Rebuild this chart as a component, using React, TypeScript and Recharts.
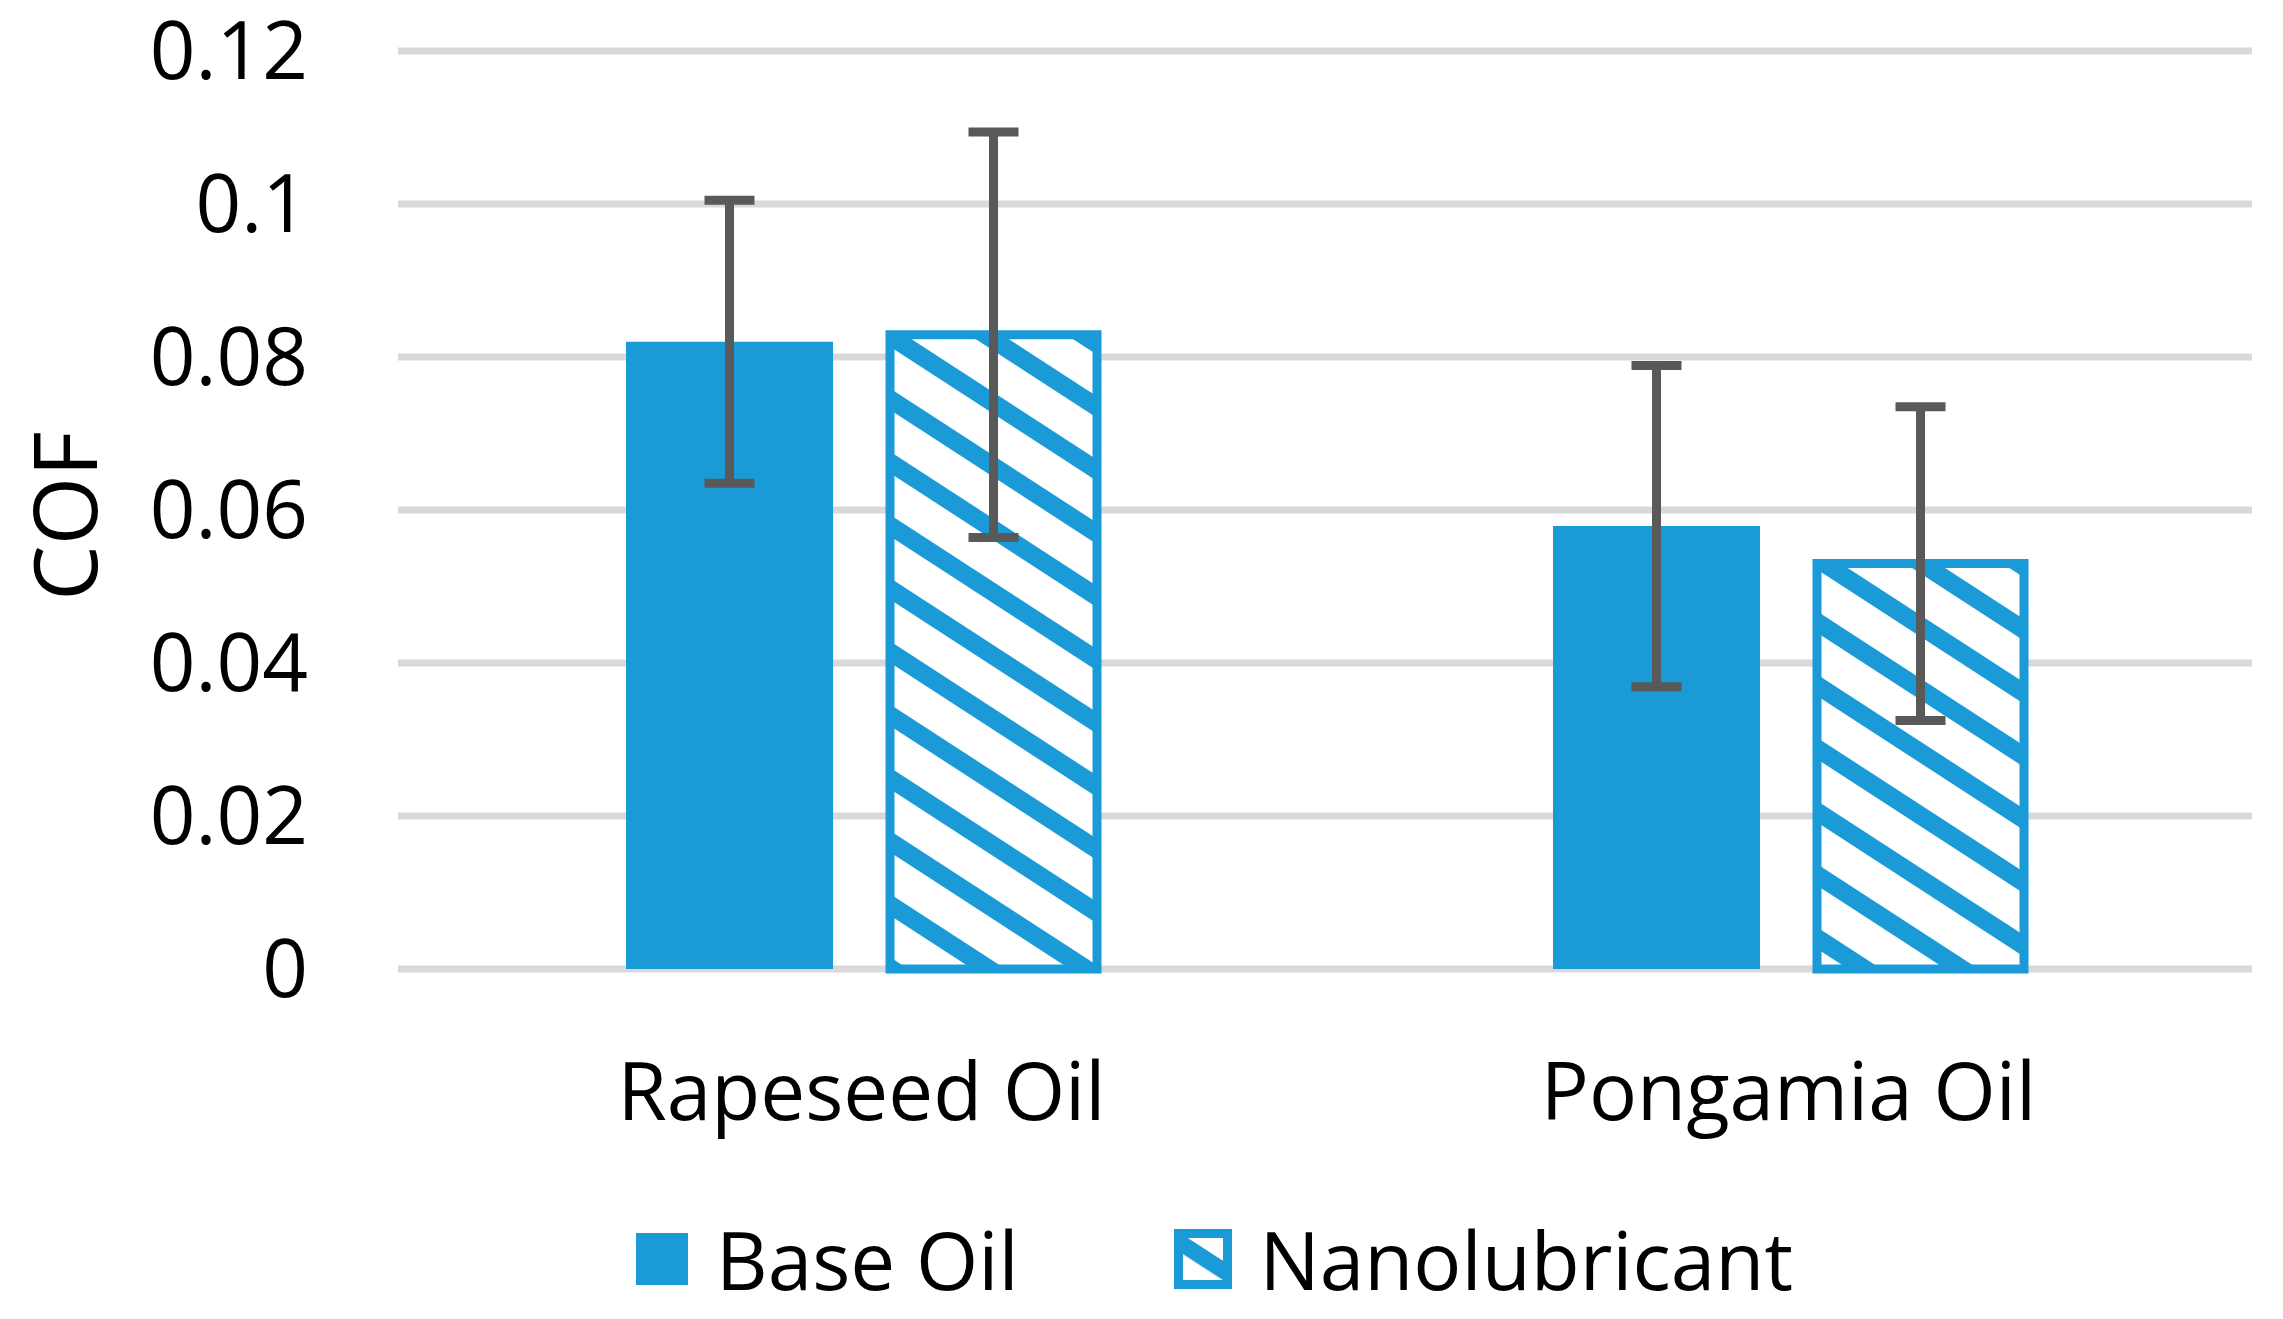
import React from "react";
import { BarChart, Bar, XAxis, YAxis, CartesianGrid, ErrorBar, Label } from "recharts";

const categories = ["Rapeseed Oil", "Pongamia Oil"];
const baseOil = [0.082, 0.0579];
const baseOilErr = [0.0185, 0.021];
const nanolubricant = [0.0829, 0.053];
const nanolubricantErr = [0.0265, 0.0205];
const yTicks = [0, 0.02, 0.04, 0.06, 0.08, 0.1, 0.12];

const BLUE = "#1A9BD7";
const FONT = "'Open Sans', sans-serif";

const data = categories.map((name, i) => ({
  name,
  base: baseOil[i],
  baseErr: baseOilErr[i],
  nano: nanolubricant[i],
  nanoErr: nanolubricantErr[i],
}));

const series = [
  { key: "base", label: "Base Oil", striped: false },
  { key: "nano", label: "Nanolubricant", striped: true },
];

function Stripes({ id, scale = 1 }: { id: string; scale?: number }) {
  return (
    <pattern
      id={id}
      patternUnits="userSpaceOnUse"
      width={100 * scale}
      height={53 * scale}
      patternTransform="rotate(33)"
    >
      <rect width={100 * scale} height={53 * scale} fill="#fff" />
      <rect width={100 * scale} height={18 * scale} fill={BLUE} />
    </pattern>
  );
}

function CofLabel(props: any) {
  const vb = props.viewBox || { y: 51, height: 918 };
  const cx = 63;
  const cy = vb.y + vb.height / 2 + 6;
  return (
    <text
      x={cx}
      y={cy}
      transform={`rotate(-90 ${cx} ${cy})`}
      textAnchor="middle"
      dominantBaseline="central"
      fontSize={88}
      fontFamily={FONT}
      fill="#000"
    >
      COF
    </text>
  );
}

function LegendBox() {
  return (
    <div
      style={{
        position: "absolute",
        left: 636,
        top: 1219,
        height: 80,
        display: "flex",
        alignItems: "center",
        fontFamily: FONT,
        fontSize: 80,
        lineHeight: "80px",
        color: "#000",
      }}
    >
      {series.map((s, i) => (
        <div
          key={s.key}
          style={{ display: "flex", alignItems: "center", marginLeft: i === 0 ? 0 : 155 }}
        >
          {s.striped ? (
            <svg width={58} height={60}>
              <defs>
                <Stripes id="legendStripes" scale={0.9} />
              </defs>
              <rect x={4.5} y={4.5} width={49} height={51} fill="url(#legendStripes)" stroke={BLUE} strokeWidth={9} />
            </svg>
          ) : (
            <div style={{ width: 52, height: 52, background: BLUE }} />
          )}
          <span style={{ marginLeft: 28 }}>{s.label}</span>
        </div>
      ))}
    </div>
  );
}

export default function App() {
  return (
    <div style={{ position: "absolute", left: 0, top: 0, width: 2283, height: 1319, background: "#fff" }}>
      <BarChart
        width={2283}
        height={1319}
        data={data}
        margin={{ top: 51, right: 31, bottom: 250, left: 0 }}
        barSize={207}
        barGap={57}
      >
        <defs>
          <Stripes id="nanoStripes" />
        </defs>
        <CartesianGrid horizontal vertical={false} stroke="#D9D9D9" strokeWidth={7} />
        <XAxis
          dataKey="name"
          height={100}
          axisLine={false}
          tickLine={false}
          tickSize={0}
          tickMargin={94}
          tick={{ fontSize: 80, fontFamily: FONT, fill: "#000" }}
        />
        <YAxis
          width={398}
          domain={[0, 0.12]}
          ticks={yTicks}
          axisLine={false}
          tickLine={false}
          tickSize={0}
          tickMargin={90}
          tickFormatter={(v: number) => String(v)}
          tick={{ fontSize: 80, fontFamily: FONT, fill: "#000" }}
        >
          <Label content={<CofLabel />} />
        </YAxis>
        <Bar dataKey="base" fill={BLUE} isAnimationActive={false}>
          <ErrorBar dataKey="baseErr" direction="y" width={25} stroke="#595959" strokeWidth={9} isAnimationActive={false} />
        </Bar>
        <Bar dataKey="nano" fill="url(#nanoStripes)" stroke={BLUE} strokeWidth={9} isAnimationActive={false}>
          <ErrorBar dataKey="nanoErr" direction="y" width={25} stroke="#595959" strokeWidth={9} isAnimationActive={false} />
        </Bar>
      </BarChart>
      <LegendBox />
    </div>
  );
}
